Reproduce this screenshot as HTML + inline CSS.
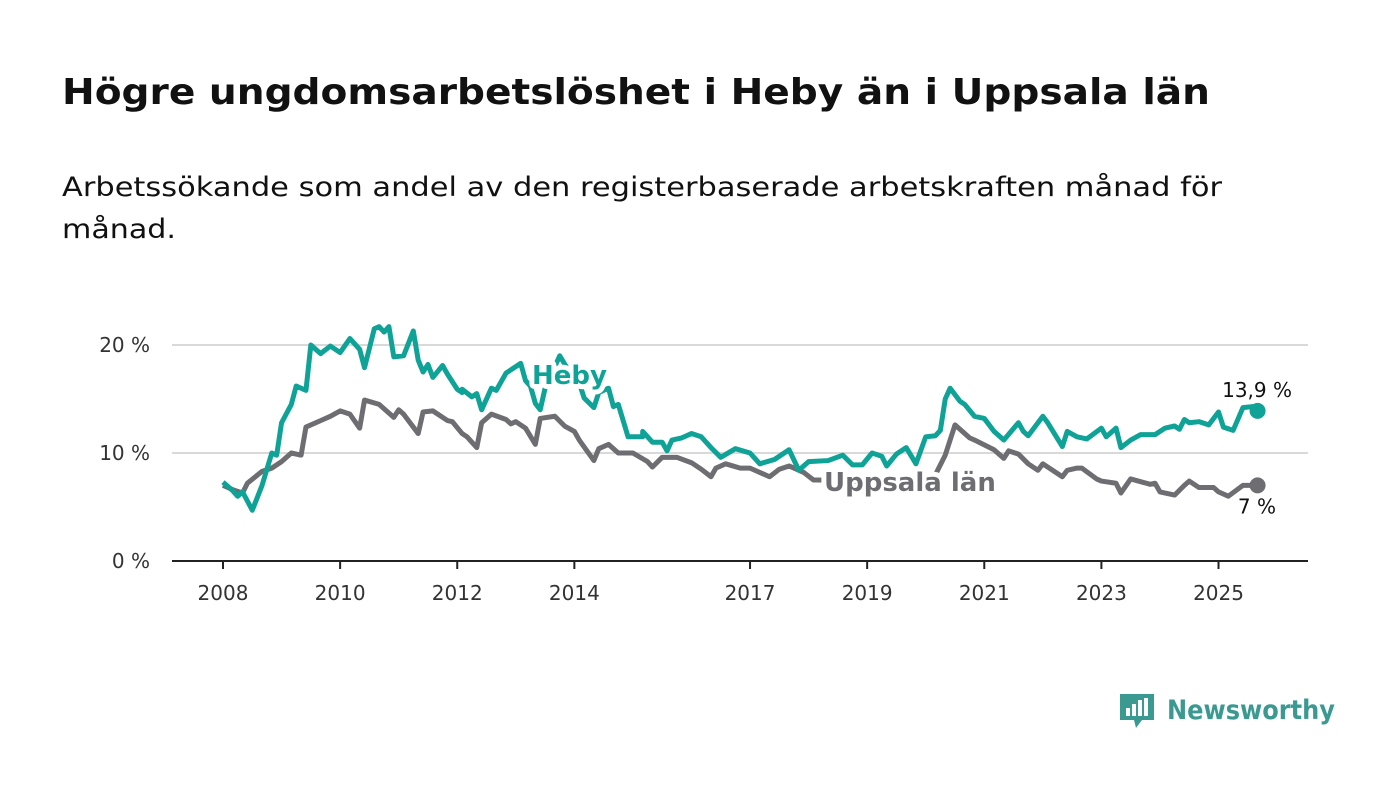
<!DOCTYPE html>
<html><head><meta charset="utf-8"><style>
body{margin:0;width:1400px;height:794px;background:#fff;overflow:hidden;font-family:"DejaVu Sans","Liberation Sans",sans-serif;}
svg{position:absolute;left:0;top:0}
text{font-family:"DejaVu Sans","Liberation Sans",sans-serif;}
</style></head><body>
<svg width="1400" height="794">
<text x="62" y="104" font-size="36" font-weight="bold" fill="#111" textLength="1148" lengthAdjust="spacingAndGlyphs">Högre ungdomsarbetslöshet i Heby än i Uppsala län</text>
<text x="62" y="196" font-size="27" fill="#111" textLength="1160" lengthAdjust="spacingAndGlyphs">Arbetssökande som andel av den registerbaserade arbetskraften månad för</text>
<text x="62" y="238" font-size="27" fill="#111" textLength="114" lengthAdjust="spacingAndGlyphs">månad.</text>
<g id="grid"></g><g id="xaxis"></g><g id="series"></g><g id="labels"></g>
<g>
<path d="M1120 694 h34 v26 h-12 l-6 8 l-2 -8 h-14 z" fill="#3a9a92"/>
<rect x="1126" y="708" width="4" height="8" fill="#fff"/><rect x="1132" y="704" width="4" height="12" fill="#fff"/><rect x="1138" y="700" width="4" height="16" fill="#fff"/><rect x="1144" y="698" width="4" height="18" fill="#fff"/>
<text x="1167" y="719" font-size="27" font-weight="bold" fill="#3a9a92" textLength="168" lengthAdjust="spacingAndGlyphs">Newsworthy</text>
</g>
</svg>
<script>
const yTicks=[0,10,20];
const yTickLabels=["0 %","10 %","20 %"];
const xTickYears=[2008,2010,2012,2014,2017,2019,2021,2023,2025];
const hebyMonths=[0,2,3,4,6,8,9,10,11,12,14,15,17,18,20,22,24,26,28,29,31,32,33,34,35,37,39,40,41,42,43,45,46,48,49,49,51,52,53,55,56,58,59,61,62,63,64,65,66,67,69,71,73,74,76,77,79,80,81,83,86,86,88,90,91,92,94,96,98,100,102,105,108,110,113,116,118,120,124,127,129,131,133,135,136,138,140,142,144,146,147,148,149,151,152,154,156,158,160,163,164,165,168,169,172,173,175,177,180,181,183,184,186,188,191,193,195,196,197,198,200,202,204,205,207,209,211,212];
const hebyValues=[7.3,6.5,6.0,6.4,4.7,7,8.5,10,9.8,12.8,14.5,16.2,15.8,20,19.2,19.9,19.3,20.6,19.6,17.9,21.5,21.7,21.2,21.7,18.9,19,21.3,18.6,17.5,18.2,17,18.1,17.3,15.9,15.6,15.9,15.2,15.5,14,16,15.8,17.4,17.7,18.3,16.7,16.2,14.6,14,16,17,19,17.5,16.5,15.1,14.2,15.6,16,14.3,14.5,11.5,11.5,12,11,11,10.2,11.2,11.4,11.8,11.5,10.5,9.6,10.4,10,9,9.4,10.3,8.4,9.2,9.3,9.8,8.9,8.9,10,9.7,8.8,9.9,10.5,9,11.5,11.6,12.1,15,16,14.8,14.5,13.4,13.2,12,11.2,12.8,12,11.6,13.4,12.8,10.6,12,11.5,11.3,12.3,11.5,12.3,10.5,11.2,11.7,11.7,12.3,12.5,12.2,13.1,12.8,12.9,12.6,13.8,12.4,12.1,14.2,14.3,13.9];
const uppMonths=[0,2,4,5,8,10,12,14,16,17,20,22,24,26,28,29,32,35,36,37,40,41,43,46,47,49,50,52,53,55,58,59,60,62,64,65,68,70,72,73,76,77,79,81,84,87,88,90,93,96,98,100,101,103,106,108,112,114,116,119,121,122,130,138,144,146,148,150,153,154,158,160,161,163,165,167,168,172,173,175,176,179,180,183,184,186,190,191,192,195,197,198,200,203,204,206,209,212];
const uppValues=[7.0,6.6,6.3,7.2,8.3,8.6,9.2,10,9.8,12.4,13,13.4,13.9,13.6,12.3,14.9,14.5,13.3,14,13.6,11.8,13.8,13.9,13,12.9,11.8,11.5,10.5,12.8,13.6,13.1,12.7,12.9,12.3,10.8,13.2,13.4,12.5,12,11.2,9.3,10.4,10.8,10,10,9.2,8.7,9.6,9.6,9.1,8.5,7.8,8.6,9,8.6,8.6,7.8,8.5,8.8,8.2,7.5,7.5,7.4,7.5,7.6,8,9.8,12.6,11.4,11.2,10.3,9.5,10.2,9.9,9,8.4,9,7.8,8.4,8.6,8.6,7.6,7.4,7.2,6.3,7.6,7.1,7.2,6.4,6.1,7,7.4,6.8,6.8,6.4,6,7,7];
const NS="http://www.w3.org/2000/svg";
const X=m=>223+m*4.88, Xy=y=>X((y-2008)*12), Y=v=>561-v*10.8;
function mk(p,t,a){const e=document.createElementNS(NS,t);for(const k in a)e.setAttribute(k,a[k]);document.getElementById(p).appendChild(e);return e;}
yTicks.forEach((v,i)=>{
 if(v>0){const l=mk('grid','line',{x1:172,x2:1308,y1:Y(v),y2:Y(v),stroke:'#d9d9d9','stroke-width':2});
 
 }
 const t=mk('grid','text',{x:150,y:Y(v)+7,'font-size':20,fill:'#333','text-anchor':'end'});t.textContent=yTickLabels[i];
 
 
});
const ax=mk('xaxis','line',{x1:172,x2:1308,y1:561,y2:561,stroke:'#222','stroke-width':2});


xTickYears.forEach(y=>{
 const tk=mk('xaxis','line',{x1:Xy(y),x2:Xy(y),y1:561,y2:569,stroke:'#222','stroke-width':2});
 
 
 const t=mk('xaxis','text',{x:Xy(y),y:600,'font-size':20,fill:'#333','text-anchor':'middle'});t.textContent=y;
 
 
});
function line(ms,vs,col,name){
 const p=mk('series','polyline',{points:ms.map((m,i)=>X(m)+','+Y(vs[i])).join(' '),fill:'none',stroke:col,'stroke-width':5,'stroke-linejoin':'round'});
 
 
 const n=ms.length-1;
 const c=mk('series','circle',{cx:X(ms[n]),cy:Y(vs[n]),r:8,fill:col});
 
 
}
line(uppMonths,uppValues,'#6e6d72','uppsala');
line(hebyMonths,hebyValues,'#0ea396','heby');
function lbl(x,y,txt,col,size,w,name,anchor,sw){
 const t=mk('labels','text',{x:x,y:y,'font-size':size,'font-weight':w,fill:col,stroke:'#fff','stroke-width':sw||6,'stroke-linejoin':'round','paint-order':'stroke','text-anchor':anchor||'start'});t.textContent=txt;
 
 
}
lbl(532,384,'Heby','#0ea396',26,'bold','heby-series-label','start',10);
lbl(824,491,'Uppsala län','#6e6d72',26,'bold','uppsala-series-label','start',10);
const hn=hebyValues.length-1, un=uppValues.length-1;
lbl(1292,Y(hebyValues[hn])-14,String(hebyValues[hn]).replace('.',',')+' %','#111',20,'normal','heby-end-value','end');
lbl(1276,Y(uppValues[un])+28,String(uppValues[un]).replace('.',',')+' %','#111',20,'normal','uppsala-end-value','end');
</script>
</body></html>
